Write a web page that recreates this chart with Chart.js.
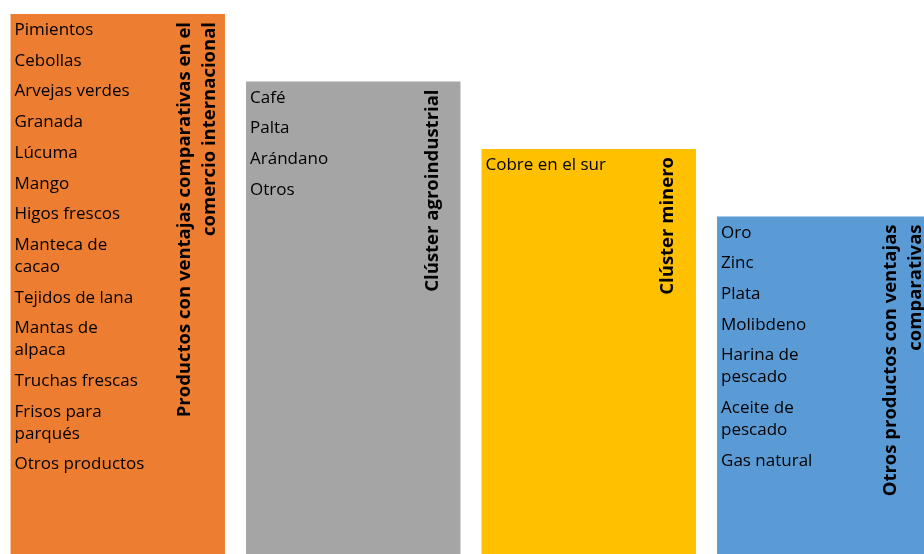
<!DOCTYPE html>
<html>
<head>
<meta charset="utf-8">
<script src="https://cdn.jsdelivr.net/npm/chart.js@4.4.1/dist/chart.umd.min.js"></script>
<style>
  html, body { margin: 0; padding: 0; background: #fff; overflow: hidden; }
  #wrap { position: relative; width: 924px; height: 554px; overflow: hidden; }
  #chart { position: absolute; left: 0; top: 0; }
</style>
</head>
<body>
<div id="wrap"><canvas id="chart" width="942" height="554"></canvas></div>
<script>
  // categories (rotated titles, one array of lines per bar)
  const titles = [
    ['Productos con ventajas comparativas en el', 'comercio internacional'],
    ['Clúster agroindustrial'],
    ['Clúster minero'],
    ['Otros productos con ventajas', 'comparativas']
  ];
  const values = [8, 7, 6, 5];
  const colors = ['#ED7D31', '#A5A5A5', '#FFC000', '#5B9BD5'];

  // list items per bar; wrapped items are arrays of lines
  const itemsOrange = ['Pimientos', 'Cebollas', 'Arvejas verdes', 'Granada', 'Lúcuma', 'Mango', 'Higos frescos',
    ['Manteca de', 'cacao'], 'Tejidos de lana', ['Mantas de', 'alpaca'], 'Truchas frescas', ['Frisos para', 'parqués'], 'Otros productos'];
  const itemsGray = ['Café', 'Palta', 'Arándano', 'Otros'];
  const itemsYellow = ['Cobre en el sur'];
  const itemsBlue = ['Oro', 'Zinc', 'Plata', 'Molibdeno', ['Harina de', 'pescado'], ['Aceite de', 'pescado'], 'Gas natural'];
  const itemLists = [itemsOrange, itemsGray, itemsYellow, itemsBlue];

  const FONT = '"Open Sans", "Liberation Sans", sans-serif';

  const boxText = {
    id: 'boxText',
    afterDatasetsDraw(chart) {
      const ctx = chart.ctx;
      const meta = chart.getDatasetMeta(0);
      meta.data.forEach(function (bar, i) {
        const left = bar.x - bar.width / 2;
        const right = bar.x + bar.width / 2;
        const top = bar.y;

        // list of products
        ctx.save();
        ctx.fillStyle = '#000';
        ctx.font = '17px ' + FONT;
        ctx.textAlign = 'left';
        ctx.textBaseline = 'alphabetic';
        let y = top + 21;
        itemLists[i].forEach(function (item, k) {
          const lines = Array.isArray(item) ? item : [item];
          if (k > 0) y += 30.7 - 22;
          lines.forEach(function (line, j) {
            if (j > 0 || k > 0) y += 22;
            ctx.fillText(line, left + 4, y);
          });
        });
        ctx.restore();

        // rotated title
        const t = titles[i];
        const cx = right - 28;
        ctx.save();
        ctx.fillStyle = '#000';
        ctx.font = 'bold 18.5px ' + FONT;
        t.forEach(function (line, j) {
          const x = cx + (j - (t.length - 1) / 2) * 25;
          ctx.save();
          ctx.translate(x, top + 8);
          ctx.rotate(-Math.PI / 2);
          ctx.textAlign = 'right';
          ctx.textBaseline = 'middle';
          ctx.fillText(line, 0, 0);
          ctx.restore();
        });
        ctx.restore();
      });
    }
  };

  new Chart(document.getElementById('chart'), {
    type: 'bar',
    data: {
      labels: titles.map(function (t) { return t.join(' '); }),
      datasets: [{
        data: values,
        backgroundColor: colors,
        borderWidth: 0,
        categoryPercentage: 1,
        barPercentage: 0.9105
      }]
    },
    options: {
      responsive: false,
      animation: false,
      layout: { padding: 0 },
      plugins: { legend: { display: false }, tooltip: { enabled: false } },
      scales: {
        x: { display: false },
        y: { display: false, min: 0, max: 554 / 67.5 }
      }
    },
    plugins: [boxText]
  });
</script>
</body>
</html>
